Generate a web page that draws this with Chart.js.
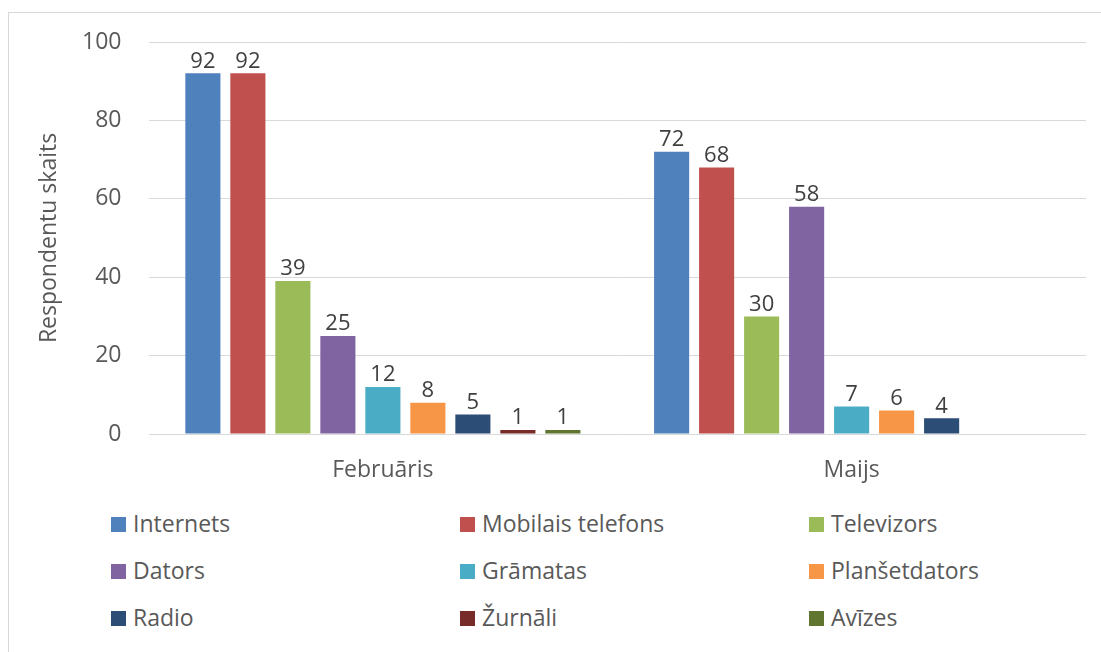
<!DOCTYPE html>
<html>
<head>
<meta charset="utf-8">
<script src="https://cdn.jsdelivr.net/npm/chart.js@4.4.1/dist/chart.umd.min.js"></script>
<style>
  body { margin: 0; background: #fff; overflow: hidden; width: 1101px; height: 652px; }
  #frame { position: absolute; left: 8px; top: 12px; width: 1110px; height: 660px; border: 1px solid #d9d9d9; }
  #wrap { position: absolute; left: 9px; top: 13px; width: 1092px; height: 480px; }
  .lg { position: absolute; font-family: "Open Sans", sans-serif; font-size: 23px; color: #595959; white-space: nowrap; }
  .lg i { position: absolute; left: 0; top: 50%; margin-top: -7px; width: 15px; height: 15px; }
  .lg span { position: absolute; left: 22px; top: 50%; transform: translateY(-52%); }
</style>
</head>
<body>
<div id="frame"></div>
<div id="wrap"><canvas id="barChart"></canvas></div>
<div id="legend"></div>
<script>
var months = ["Februāris", "Maijs"];
var seriesNames = ["Internets", "Mobilais telefons", "Televizors", "Dators", "Grāmatas", "Planšetdators", "Radio", "Žurnāli", "Avīzes"];
var seriesColors = ["#4F81BD", "#C0504D", "#9BBB59", "#8064A2", "#4BACC6", "#F79646", "#2C4D75", "#772C2A", "#5F7530"];
var internets = [92, 72];
var mobilais = [92, 68];
var televizors = [39, 30];
var dators = [25, 58];
var gramatas = [12, 7];
var plansetdators = [8, 6];
var radio = [5, 4];
var zurnali = [1, null];
var avizes = [1, null];
var yTicks = [0, 20, 40, 60, 80, 100];

var seriesValues = [internets, mobilais, televizors, dators, gramatas, plansetdators, radio, zurnali, avizes];

var datasets = seriesNames.map(function (name, i) {
    return {
        label: name,
        data: seriesValues[i],
        backgroundColor: seriesColors[i],
        borderWidth: 0,
        barPercentage: 0.78,
        categoryPercentage: 0.864
    };
});

/** value labels above bars **/
var valueLabels = {
    id: 'valueLabels',
    afterDatasetsDraw: function (chart) {
        var ctx = chart.ctx;
        ctx.save();
        ctx.font = '22px "Open Sans", sans-serif';
        ctx.fillStyle = '#404040';
        ctx.textAlign = 'center';
        ctx.textBaseline = 'bottom';
        chart.data.datasets.forEach(function (ds, i) {
            chart.getDatasetMeta(i).data.forEach(function (bar, j) {
                var v = ds.data[j];
                if (v === null || v === undefined) return;
                ctx.fillText(v, bar.x, bar.y - 1);
            });
        });
        ctx.restore();
    }
};

var ctx = document.getElementById("barChart").getContext("2d");
new Chart(ctx, {
    type: 'bar',
    data: { labels: months, datasets: datasets },
    options: {
        responsive: true,
        maintainAspectRatio: false,
        animation: false,
        layout: { padding: { left: 27, right: 15, top: 29, bottom: 0 } },
        plugins: { legend: { display: false }, tooltip: { enabled: false } },
        scales: {
            x: {
                grid: { display: false },
                border: { display: false },
                ticks: { color: '#595959', font: { family: 'Open Sans', size: 23 }, padding: 15 },
                afterFit: function (scale) { scale.height = 59; }
            },
            y: {
                min: 0,
                max: 100,
                afterBuildTicks: function (scale) {
                    scale.ticks = yTicks.map(function (v) { return { value: v }; });
                },
                grid: { color: '#d9d9d9', lineWidth: 1, drawTicks: false },
                border: { display: false },
                ticks: { color: '#595959', font: { family: 'Open Sans', size: 23 }, padding: 27 },
                title: {
                    display: true,
                    text: 'Respondentu skaits',
                    color: '#595959',
                    font: { family: 'Open Sans', size: 23 },
                    padding: 0
                },
                afterFit: function (scale) {
                    scale.width = 112.5;
                    scale.paddingTop = 0;
                    scale.paddingBottom = 0;
                }
            }
        }
    },
    plugins: [valueLabels]
});

/** legend, 3 columns **/
var legend = document.getElementById("legend");
seriesNames.forEach(function (name, i) {
    var col = i % 3, row = Math.floor(i / 3);
    var el = document.createElement("div");
    el.className = "lg";
    el.style.left = (111 + col * 349) + "px";
    el.style.top = (524 + row * 47 - 15) + "px";
    el.style.height = "30px";
    el.style.width = "330px";
    el.innerHTML = '<i style="background:' + seriesColors[i] + '"></i><span>' + name + '</span>';
    legend.appendChild(el);
});
</script>
</body>
</html>
